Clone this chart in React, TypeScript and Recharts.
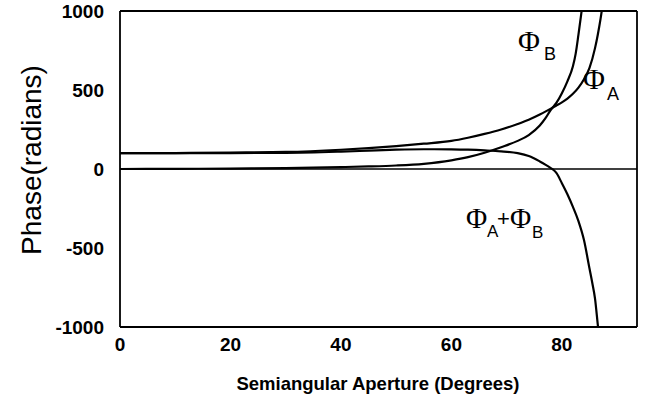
import React from 'react';
import { LineChart, Line, XAxis, YAxis, ReferenceLine } from 'recharts';

// Phase A (gentle curve, starts at 100)
const angleA = [0, 10, 20, 30, 40, 45, 50, 55, 60, 63, 66, 69, 72, 74, 76, 77, 78, 79, 80, 81, 82, 83, 84, 85, 86, 86.5, 87, 87.5];
const phaseA = [100, 101, 104, 108, 122, 132, 145, 160, 178, 198, 222, 250, 285, 312, 345, 363, 382, 402, 422, 446, 476, 515, 568, 640, 765, 850, 950, 1070];

// Phase B (steep curve, starts at 0)
const angleB = [0, 10, 20, 30, 40, 45, 50, 55, 60, 63, 66, 69, 72, 74, 76, 77, 78, 79, 80, 81, 82, 82.5, 83, 83.5, 84];
const phaseB = [0, 1, 3, 6, 12, 16, 22, 33, 55, 75, 103, 138, 178, 215, 275, 320, 375, 418, 480, 555, 650, 730, 850, 980, 1120];

// Combined phase
const angleSum = [0, 10, 20, 30, 40, 45, 50, 55, 60, 63, 66, 69, 72, 74, 76, 77, 78, 78.5, 79, 80, 81, 82, 83, 84, 85, 85.5, 86, 86.5, 87];
const phaseSum = [100, 100, 101, 102, 110, 116, 122, 125, 124, 122, 118, 112, 100, 82, 48, 28, 6, -6, -25, -90, -160, -240, -330, -450, -630, -720, -820, -985, -1150];

const xTicks = [0, 20, 40, 60, 80];
const yTicks = [-1000, -500, 0, 500, 1000];

const zip = (xs: number[], ys: number[]) => xs.map((x, i) => ({ x, y: ys[i] }));
const dataA = zip(angleA, phaseA);
const dataB = zip(angleB, phaseB);
const dataSum = zip(angleSum, phaseSum);

const SANS = '"Liberation Sans", Arial, Helvetica, sans-serif';
const SERIF = '"Liberation Serif", "Times New Roman", serif';
const X_DOMAIN: [number, number] = [0, 93.6];
const Y_DOMAIN: [number, number] = [-1000, 1000];

const tickStyle = { fill: '#000', fontSize: 19, fontWeight: 'bold', fontFamily: SANS } as const;

export default function App() {
  return (
    <div style={{ position: 'absolute', left: 0, top: 0, width: 645, height: 402, background: '#fff' }}>
      <LineChart width={645} height={402} margin={{ top: 11, right: 8, bottom: 45, left: 0 }}>
        <XAxis
          xAxisId="x"
          type="number"
          dataKey="x"
          domain={X_DOMAIN}
          allowDataOverflow
          ticks={xTicks}
          tickLine={false}
          axisLine={{ stroke: '#000', strokeWidth: 1.8 }}
          height={30}
          tick={tickStyle}
          tickMargin={5}
        />
        <YAxis
          yAxisId="y"
          type="number"
          domain={Y_DOMAIN}
          allowDataOverflow
          ticks={yTicks}
          width={120}
          tickLine={false}
          axisLine={{ stroke: '#000', strokeWidth: 1.8 }}
          tick={tickStyle}
          tickMargin={10}
        />
        <ReferenceLine xAxisId="x" yAxisId="y" y={Y_DOMAIN[1]} stroke="#000" strokeWidth={1.8} />
        <ReferenceLine xAxisId="x" yAxisId="y" x={X_DOMAIN[1]} stroke="#000" strokeWidth={1.8} />
        <ReferenceLine xAxisId="x" yAxisId="y" y={0} stroke="#000" strokeWidth={1.5} />
        <Line xAxisId="x" yAxisId="y" data={dataA} dataKey="y" type="monotone" stroke="#000" strokeWidth={2.2} dot={false} isAnimationActive={false} />
        <Line xAxisId="x" yAxisId="y" data={dataB} dataKey="y" type="monotone" stroke="#000" strokeWidth={2.2} dot={false} isAnimationActive={false} />
        <Line xAxisId="x" yAxisId="y" data={dataSum} dataKey="y" type="monotone" stroke="#000" strokeWidth={2.2} dot={false} isAnimationActive={false} />
      </LineChart>
      <svg width={645} height={402} style={{ position: 'absolute', left: 0, top: 0, pointerEvents: 'none' }}>
        <text x={31} y={160} transform="rotate(-90 31 160)" textAnchor="middle" dominantBaseline="central" fontFamily={SANS} fontSize={28} fill="#000">
          Phase(radians)
        </text>
        <text x={378} y={390} textAnchor="middle" fontFamily={SANS} fontSize={18.5} fontWeight="bold" fill="#000">
          Semiangular Aperture (Degrees)
        </text>
        {/* Phi_B */}
        <text x={518} y={51} fontFamily={SERIF} fontSize={30} fill="#000">Φ</text>
        <text x={544} y={60} fontFamily={SANS} fontSize={18} fill="#000">B</text>
        {/* Phi_A */}
        <text x={583} y={89} fontFamily={SERIF} fontSize={30} fill="#000">Φ</text>
        <text x={607} y={100} fontFamily={SANS} fontSize={18} fill="#000">A</text>
        {/* Phi_A + Phi_B */}
        <text x={466} y={228} fontFamily={SERIF} fontSize={29} fill="#000">Φ</text>
        <text x={487} y={237} fontFamily={SANS} fontSize={17} fill="#000">A</text>
        <text x={497} y={226} fontFamily={SANS} fontSize={22} fill="#000">+</text>
        <text x={510} y={228} fontFamily={SERIF} fontSize={29} fill="#000">Φ</text>
        <text x={532} y={238} fontFamily={SANS} fontSize={17} fill="#000">B</text>
      </svg>
    </div>
  );
}
